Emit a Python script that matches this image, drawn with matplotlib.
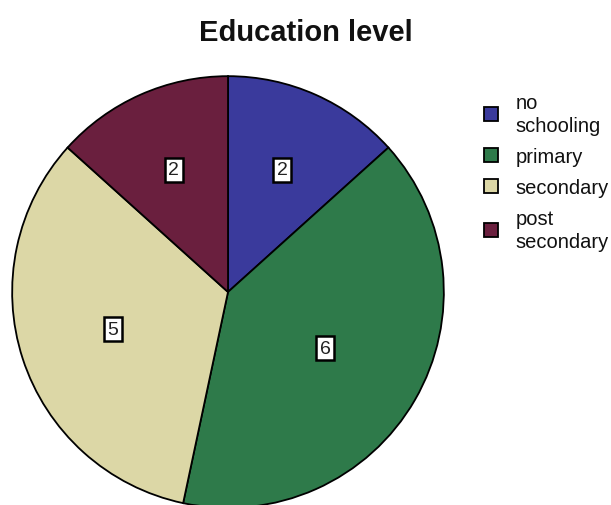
import numpy as np
import matplotlib
matplotlib.use("Agg")
import matplotlib.pyplot as plt

plt.rcParams["font.family"] = ["Liberation Sans", "DejaVu Sans"]

# data
categories = ["no\nschooling", "primary", "secondary", "post\nsecondary"]
counts = [2, 6, 5, 2]
colors = ["#3a3a9c", "#2e7a4a", "#dcd7a6", "#6a1f3e"]
label_r = [0.62, 0.52, 0.56, 0.62]

fig = plt.figure(figsize=(6.11, 5.06), dpi=100)
fig.patch.set_facecolor("white")

# pie axes placed in pixels: centre (228, 293), radius 218
ax = fig.add_axes([10 / 611, (506 - 293 - 218) / 506, 436 / 611, 436 / 506])
wedges, _ = ax.pie(counts, colors=colors, startangle=90, counterclock=False,
                   radius=1, wedgeprops=dict(edgecolor="black", linewidth=1.3))
ax.set_xlim(-1.01, 1.01)
ax.set_ylim(-1.01, 1.01)
ax.set_aspect("equal")
ax.axis("off")

for w, n, r in zip(wedges, counts, label_r):
    mid = np.deg2rad((w.theta1 + w.theta2) / 2)
    ax.text(r * np.cos(mid), r * np.sin(mid), str(n), ha="center", va="center",
            fontsize=14, color="#222222",
            bbox=dict(boxstyle="square,pad=0.18", facecolor="white",
                      edgecolor="black", linewidth=1.8))

fig.text(0.5, 0.935, "Education level", ha="center", va="center",
         fontsize=21, fontweight="bold", color="#111111")

leg = fig.legend(wedges, categories, loc="upper left",
                 bbox_to_anchor=(484 / 611, 1 - 94 / 506), frameon=False,
                 fontsize=14.5, handlelength=0.7, handleheight=0.7,
                 handletextpad=0.85, labelspacing=0.6,
                 borderpad=0, borderaxespad=0)
for t in leg.get_texts():
    t.set_linespacing(1.25)
    t.set_color("#111111")

fig.savefig("out.png", dpi=100)
